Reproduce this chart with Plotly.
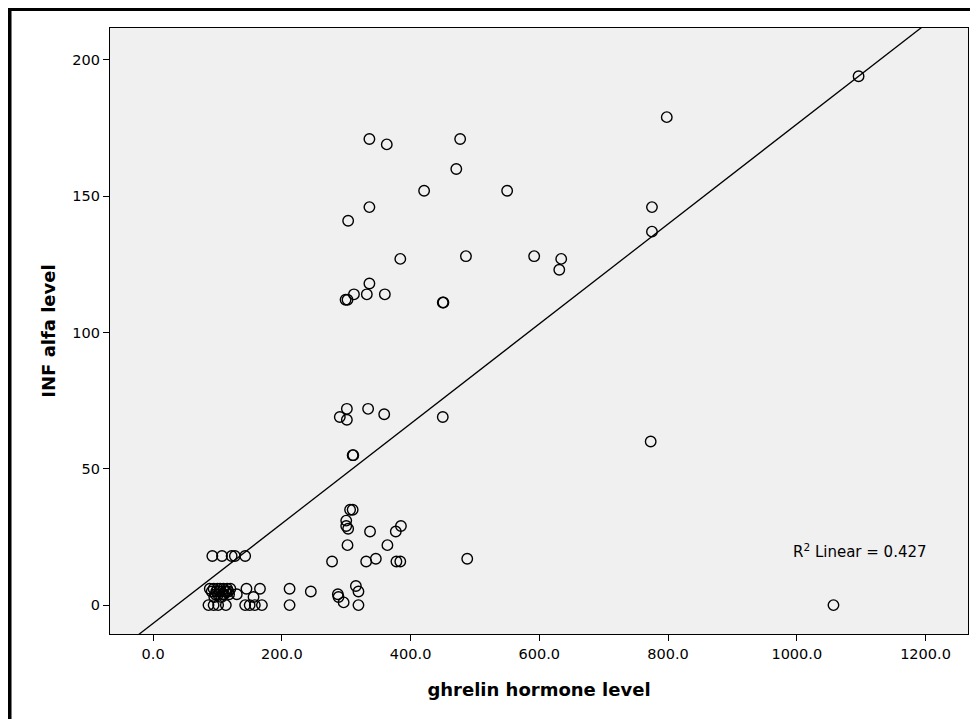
import numpy as np
import plotly.graph_objects as go

# ghrelin hormone level (x) and INF alfa level (y)
ghrelin = [
    1096, 798, 336, 363, 477, 471, 421, 550, 336, 303, 384, 486, 592, 634, 631,
    775, 775, 336, 312, 332, 360, 299, 302, 450, 451,
    301, 334, 290, 301, 359, 450, 773, 310, 311,
    306, 310, 300, 300, 303, 385, 377, 337, 302, 364, 278, 331, 346, 378, 384, 488,
    212, 212, 245, 287, 288, 315, 319, 296, 319, 1057,
    92, 107, 122, 127, 143,
    88, 91, 94, 97, 100, 103, 106, 109, 112, 115, 118, 120, 95, 110, 130, 145, 166, 156,
    98, 104, 108, 114, 101, 117,
    86, 94, 101, 113, 143, 150, 158, 169,
]
inf_alfa = [
    194, 179, 171, 169, 171, 160, 152, 152, 146, 141, 127, 128, 128, 127, 123,
    146, 137, 118, 114, 114, 114, 112, 112, 111, 111,
    72, 72, 69, 68, 70, 69, 60, 55, 55,
    35, 35, 31, 29, 28, 29, 27, 27, 22, 22, 16, 16, 17, 16, 16, 17,
    6, 0, 5, 4, 3, 7, 5, 1, 0, 0,
    18, 18, 18, 18, 18,
    6, 5, 6, 4, 6, 5, 3, 6, 5, 6, 4, 6, 3, 4, 4, 6, 6, 3,
    5, 6, 4, 5, 4, 5,
    0, 0, 0, 0, 0, 0, 0, 0,
]
x_ticks = [0, 200, 400, 600, 800, 1000, 1200]
y_ticks = [0, 50, 100, 150, 200]
x_range = [-67, 1266]
y_range = [-10.6, 211.7]
r2_text = "R<sup>2</sup> Linear = 0.427"

x = np.array(ghrelin, dtype=float)
y = np.array(inf_alfa, dtype=float)
slope, intercept = np.polyfit(x, y, 1)
fx = np.array(x_range, dtype=float)
fy = slope * fx + intercept

fig = go.Figure()
fig.add_trace(go.Scatter(
    x=x, y=y, mode="markers",
    marker=dict(symbol="circle-open", size=10.5, color="black", line=dict(width=1.4, color="black")),
    showlegend=False, hoverinfo="x+y",
))
fig.add_trace(go.Scatter(
    x=fx, y=fy, mode="lines", line=dict(color="black", width=1.3),
    showlegend=False, hoverinfo="skip",
))

font_family = "DejaVu Sans, Verdana, sans-serif"
fig.update_layout(
    width=962, height=711,
    margin=dict(l=102, r=2, t=20, b=85),
    paper_bgcolor="white",
    plot_bgcolor="#f0f0f0",
    font=dict(family=font_family, size=14, color="black"),
    xaxis=dict(
        range=x_range, tickvals=x_ticks, tickformat=".1f",
        ticks="outside", ticklen=6, tickwidth=1.2, tickcolor="black",
        showline=True, linecolor="black", linewidth=1.2, mirror=True,
        showgrid=False, zeroline=False,
        tickfont=dict(size=14.5),
        title=dict(text="<b>ghrelin hormone level</b>", font=dict(size=18), standoff=22),
    ),
    yaxis=dict(
        range=y_range, tickvals=y_ticks,
        ticks="outside", ticklen=6, tickwidth=1.2, tickcolor="black",
        showline=True, linecolor="black", linewidth=1.2, mirror=True,
        showgrid=False, zeroline=False,
        tickfont=dict(size=14.5),
        title=dict(text="<b>INF alfa level</b>", font=dict(size=18), standoff=12),
    ),
    annotations=[dict(
        x=1098, y=20, xref="x", yref="y", text=r2_text, showarrow=False,
        font=dict(size=15), xanchor="center", yanchor="middle",
    )],
    shapes=[
        dict(type="line", xref="paper", yref="paper", x0=-0.1177, x1=1.05, y0=1.0322, y1=1.0322,
             line=dict(color="black", width=5)),
        dict(type="line", xref="paper", yref="paper", x0=-0.1177, x1=-0.1177, y0=-0.25, y1=1.036,
             line=dict(color="black", width=5)),
    ],
)

fig.write_html("out.html")
